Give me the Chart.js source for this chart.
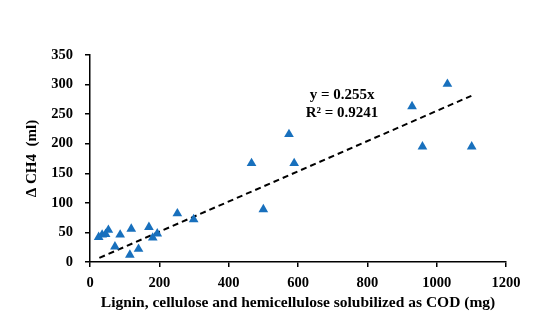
<!DOCTYPE html>
<html lang="en">
<head>
    <meta charset="UTF-8">
    <title>Delta CH4 vs solubilized COD</title>
    <script src="https://cdn.jsdelivr.net/npm/chart.js"></script>
    <style>
        html, body { margin: 0; padding: 0; background: #fff; }
        #wrap { width: 550px; height: 334px; }
    </style>
</head>
<body>
    <div id="wrap">
        <canvas id="ch4Chart" width="550" height="334"></canvas>
    </div>

    <script>
        const codX = [25, 35, 45, 53, 72, 87, 115, 119, 140, 170, 181, 194, 252, 299, 466, 500, 574, 589, 929, 959, 1031, 1101];
        const ch4Y = [42, 46, 47, 54, 26, 46, 12, 56, 22, 59, 41, 48, 82, 72, 167, 89, 216, 167, 263, 195, 301, 195];

        // linear fit through origin, ends of the dashed line
        const trendX = [27, 1100];
        const trendY = [7, 281];

        const fitLabels = ['y = 0.255x', 'R\u00b2 = 0.9241'];
        const fitLabelX = 727;
        const fitLabelY = [282, 251];

        const xTicks = [0, 200, 400, 600, 800, 1000, 1200];
        const yTicks = [0, 50, 100, 150, 200, 250, 300, 350];

        const serif = "'Liberation Serif', 'DejaVu Serif', serif";

        const points = codX.map((x, i) => ({x: x, y: ch4Y[i]}));
        const trend = trendX.map((x, i) => ({x: x, y: trendY[i]}));

        // draws the equation text at data coordinates
        const fitText = {
            id: 'fitText',
            afterDatasetsDraw(chart) {
                const ctx = chart.ctx;
                const xs = chart.scales.x, ys = chart.scales.y;
                ctx.save();
                ctx.font = 'bold 15px ' + serif;
                ctx.fillStyle = '#000';
                ctx.textAlign = 'center';
                ctx.textBaseline = 'middle';
                fitLabels.forEach((t, i) => {
                    ctx.fillText(t, xs.getPixelForValue(fitLabelX), ys.getPixelForValue(fitLabelY[i]));
                });
                ctx.restore();
            }
        };

        const ctx = document.getElementById('ch4Chart').getContext('2d');
        new Chart(ctx, {
            type: 'scatter',
            data: {
                datasets: [{
                    label: 'data',
                    data: points,
                    pointStyle: 'triangle',
                    pointRadius: 5.6,
                    backgroundColor: '#1870bd',
                    borderColor: '#1870bd',
                    borderWidth: 0
                }, {
                    type: 'line',
                    label: 'fit',
                    data: trend,
                    borderColor: '#000',
                    borderWidth: 2,
                    borderDash: [6, 4],
                    pointRadius: 0,
                    fill: false
                }]
            },
            options: {
                responsive: false,
                animation: false,
                layout: { padding: { top: 55, right: 44, bottom: 0, left: 0 } },
                plugins: {
                    legend: { display: false },
                    tooltip: { enabled: false }
                },
                scales: {
                    x: {
                        type: 'linear',
                        min: 0,
                        max: 1200,
                        afterBuildTicks: axis => { axis.ticks = xTicks.map(v => ({value: v})); },
                        afterFit: axis => { axis.height = 72; },
                        grid: { drawOnChartArea: false, tickLength: 5, color: '#000', lineWidth: 1.5 },
                        border: { color: '#000', width: 1.5 },
                        ticks: {
                            color: '#000',
                            padding: 8,
                            maxRotation: 0,
                            font: { family: serif, size: 14.5, weight: 'bold' },
                            callback: v => String(v)
                        },
                        title: {
                            display: true,
                            text: 'Lignin, cellulose and hemicellulose solubilized as COD (mg)',
                            color: '#000',
                            font: { family: serif, size: 15.5, weight: 'bold' },
                            padding: { top: 0, bottom: 22 }
                        }
                    },
                    y: {
                        min: 0,
                        max: 350,
                        afterBuildTicks: axis => { axis.ticks = yTicks.map(v => ({value: v})); },
                        afterFit: axis => { axis.width = 90; },
                        grid: { drawOnChartArea: false, tickLength: 5, color: '#000', lineWidth: 1.5 },
                        border: { color: '#000', width: 1.5 },
                        ticks: {
                            color: '#000',
                            padding: 12,
                            font: { family: serif, size: 14.5, weight: 'bold' },
                            callback: v => String(v)
                        },
                        title: {
                            display: true,
                            text: '\u0394 CH4  (ml)',
                            color: '#000',
                            font: { family: serif, size: 15, weight: 'bold' },
                            padding: { top: 23, bottom: 0 }
                        }
                    }
                }
            },
            plugins: [fitText]
        });
    </script>
</body>
</html>
